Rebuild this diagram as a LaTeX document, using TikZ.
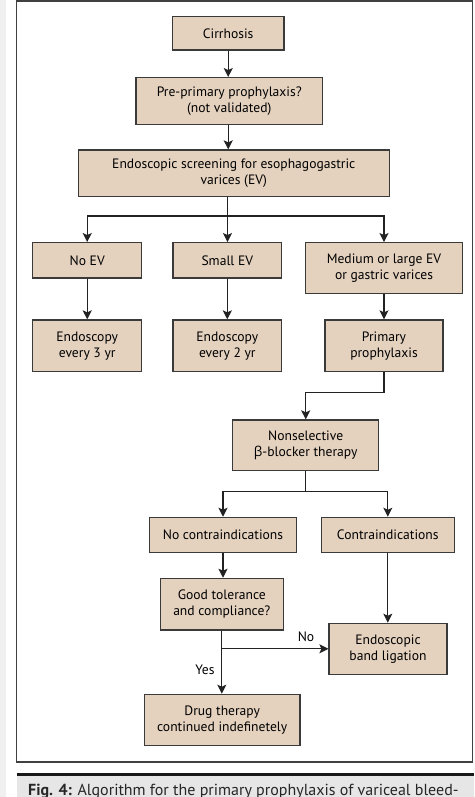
\documentclass[tikz,border=0pt]{standalone}
\usepackage{fontspec}
\setmainfont{PT Sans}
\newfontfamily\grk{Open Sans}
\usetikzlibrary{arrows.meta}
\definecolor{boxfill}{HTML}{E4D2BF}
\definecolor{boxline}{HTML}{3A3A3A}
\definecolor{conline}{HTML}{222222}
\definecolor{capgray}{HTML}{E6E6E6}
\definecolor{stripgray}{HTML}{F0F0F0}
\tikzset{
  box/.style={draw=boxline, line width=1.2pt, fill=boxfill, inner sep=0pt, align=center,
    font=\fontsize{13.6}{15.7}\selectfont, text=black},
  con/.style={draw=conline, line width=1.3pt},
  arr/.style={con, -{Stealth[length=9pt,width=9pt,inset=2pt]}},
  lbl/.style={inner sep=0pt, font=\fontsize{13.6}{15.7}\selectfont, text=black},
  frame/.style={draw=black!75, line width=1.6pt}
}
\begin{document}
\begin{tikzpicture}[x=1pt,y=-1pt]
\useasboundingbox (0,0) rectangle (474,797);
\clip (0,0) rectangle (474,797);
\fill[white] (0,0) rectangle (474,797);
\fill[stripgray] (0,0) rectangle (6,797);
% frame
\draw[frame] (16.5,1) rectangle (472.5,761.7);
% caption
\fill[capgray] (16.5,776) rectangle (474,797);
\draw[draw=black!90, line width=2.8pt] (16.5,774.6) -- (474,774.6);
\node[anchor=base west, inner sep=0pt, font=\fontsize{16}{18}\selectfont, text=black!85] (cap) at (28,795.5)
  {\textbf{Fig. 4:} Algorithm for the primary prophylaxis of variceal bleed-};
% boxes
\node[box, minimum width=111.7pt, minimum height=33.3pt] (cir) at (228.2,33.3) {Cirrhosis};
\node[box, minimum width=186.7pt, minimum height=46.7pt] (pre) at (229.3,101) {Pre-primary prophylaxis?\\(not validated)};
\node[box, minimum width=311pt, minimum height=46.7pt] (scr) at (233.8,173.3) {Endoscopic screening for esophagogastric\\varices (EV)};
\node[box, minimum width=109pt, minimum height=35.3pt] (noev) at (87.2,260.3) {No EV};
\node[box, minimum width=108.7pt, minimum height=35.3pt] (smev) at (227.3,260.3) {Small EV};
\node[box, minimum width=157.3pt, minimum height=50.7pt] (med) at (384,268) {Medium or large EV\\or gastric varices};
\node[box, minimum width=109pt, minimum height=51.7pt] (e3) at (87.2,345.8) {Endoscopy\\every 3 yr};
\node[box, minimum width=108.7pt, minimum height=51.7pt] (e2) at (227.3,345.8) {Endoscopy\\every 2 yr};
\node[box, minimum width=118pt, minimum height=51.7pt] (pp) at (384,345.8) {Primary\\prophylaxis};
\node[box, minimum width=146pt, minimum height=50.7pt] (nsb) at (305.7,445.3) {Nonselective\\{\grk β}-blocker therapy};
\node[box, minimum width=147.3pt, minimum height=35.3pt] (noc) at (223,535) {No contraindications};
\node[box, minimum width=133pt, minimum height=35.3pt] (ci) at (387.8,535) {Contraindications};
\node[box, minimum width=123pt, minimum height=51.7pt] (good) at (221.8,604.2) {Good tolerance\\and compliance?};
\node[box, minimum width=118pt, minimum height=51pt] (ebl) at (388,648.8) {Endoscopic\\band ligation};
\node[box, minimum width=155.7pt, minimum height=51.4pt] (drug) at (222.2,720) {Drug therapy\\continued indefinetely};
% connectors
\draw[arr] (cir.south) -- (cir.south |- pre.north);
\draw[arr] (pre.south -| cir.south) -- (cir.south |- scr.north);
\coordinate (j1) at (227.5,216);
\draw[con] (scr.south -| j1) -- (j1);
\draw[arr] (j1) -- (j1 |- smev.north);
\draw[arr] (j1) -| (noev.north);
\draw[arr] (j1) -| (med.north);
\draw[arr] (noev.south) -- (e3.north);
\draw[arr] (smev.south) -- (e2.north);
\draw[arr] (med.south) -- (pp.north);
\coordinate (j2) at (384,392.3);
\draw[arr] (pp.south) -- (j2) -| (nsb.north);
\coordinate (j3) at (305.7,491.7);
\draw[con] (nsb.south) -- (j3);
\draw[arr] (j3) -| (noc.north);
\draw[arr] (j3) -| (ci.north);
\draw[arr] (noc.south) -- (noc.south |- good.north);
\draw[arr] (ci.south) -- (ci.south |- ebl.north);
\draw[arr] (good.south) -- (good.south |- drug.north);
\coordinate (j4) at (good.south |- ebl.west);
\draw[arr] (j4) -- (ebl.west);
\node[lbl] (no) at (306,637) {No};
\node[lbl] (yes) at (205,669.5) {Yes};
\end{tikzpicture}
\end{document}
